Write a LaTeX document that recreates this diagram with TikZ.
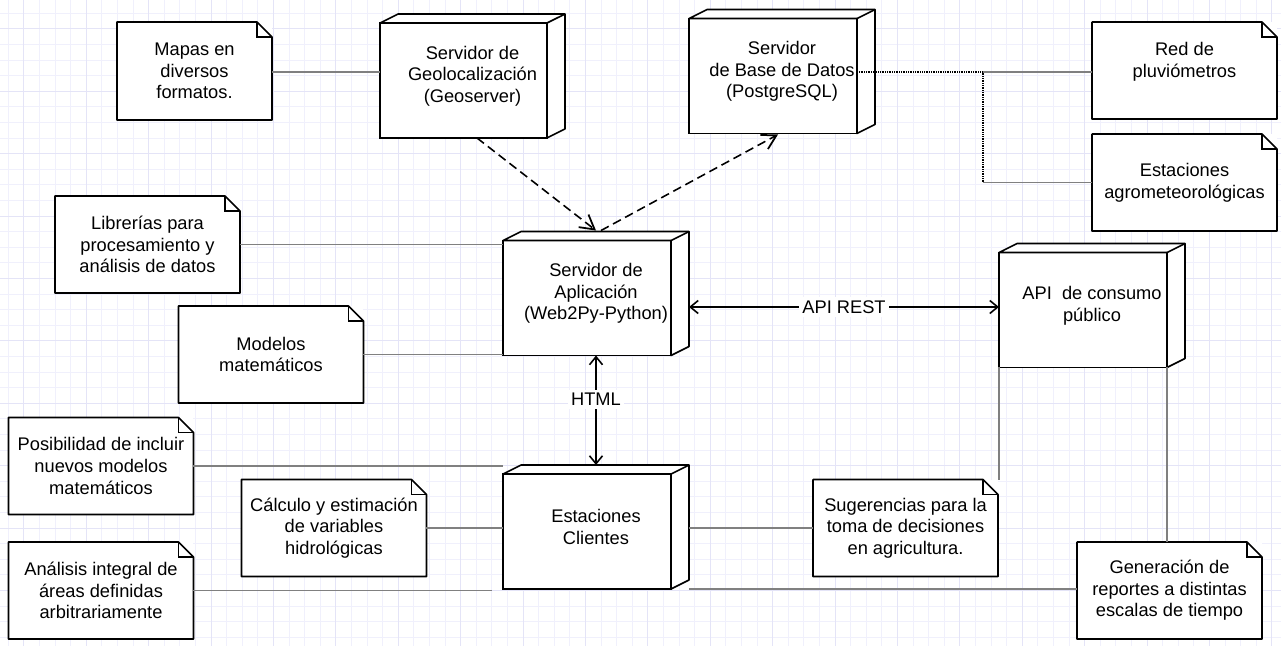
\documentclass[tikz,border=0pt]{standalone}
\usepackage{fontspec}
\setmainfont{Liberation Sans}
\usetikzlibrary{calc}
\usetikzlibrary{arrows.meta}

\definecolor{rejillaMenor}{RGB}{240,240,252}
\definecolor{rejillaMayor}{RGB}{228,228,247}
\definecolor{conector}{RGB}{128,128,128}

\tikzset{
	texto/.style = {align=center, text=black, font=\fontsize{10.4}{12.3}\selectfont},
	caja/.style = {draw, line width=0.9pt, fill=white, minimum width=3.36cm, minimum height=2.3cm, inner sep=0pt, outer sep=0pt},
	nota/.style = {texto, fill=white, minimum width=3.7cm, minimum height=1.94cm, inner sep=0pt, outer sep=0pt},
	enlace/.style = {conector, line width=0.8pt},
	punteado/.style = {line width=0.7pt, dash pattern=on 0.5pt off 0.5pt},
	flecha/.style = {line width=0.9pt, {Straight Barb[length=1.6mm, width=2.6mm]}-{Straight Barb[length=1.6mm, width=2.6mm]}},
	discontinua/.style = {line width=0.9pt, dash pattern=on 5pt off 2.8pt, -{Straight Barb[length=2.8mm, width=3.2mm, line width=1pt]}}
}

% caras superior y lateral de un nodo 3D
\newcommand{\profundidad}[1]{%
	\draw [line width=0.9pt, fill=white, line join=round] (#1.north west) -- ++(0.36cm,0.18cm) -- ([shift={(0.36cm,0.18cm)}]#1.north east) -- ([shift={(0.36cm,0.18cm)}]#1.south east) -- (#1.south east) -- (#1.north east) -- cycle;
	\draw [line width=0.9pt] (#1.north east) -- ++(0.36cm,0.18cm);
}

% contorno de nota con esquina doblada
\newcommand{\doblez}[1]{%
	\draw [line width=0.9pt, line join=round] (#1.south west) -- (#1.north west) -- ([xshift=-0.3cm]#1.north east) -- ([yshift=-0.3cm]#1.north east) -- (#1.south east) -- cycle;
	\draw [line width=0.9pt] ([xshift=-0.3cm]#1.north east) |- ([yshift=-0.3cm]#1.north east);
}

\begin{document}
\begin{tikzpicture}[x=0.02cm, y=-0.02cm]

	% fondo y rejilla
	\fill [white] (0,0) rectangle (1281,646);
	\useasboundingbox (0,0) rectangle (1281,646);
	\foreach \i in {0,...,81} \draw [rejillaMenor, line width=0.55pt] ({8.3+15.6*\i},0) -- ({8.3+15.6*\i},646);
	\foreach \j in {0,...,40} \draw [rejillaMenor, line width=0.55pt] (0,{13.3+15.6*\j}) -- (1281,{13.3+15.6*\j});
	\foreach \i in {0,...,20} \draw [rejillaMayor, line width=0.55pt] ({23.9+62.4*\i},0) -- ({23.9+62.4*\i},646);
	\foreach \j in {0,...,9} \draw [rejillaMayor, line width=0.55pt] (0,{28.9+62.4*\j}) -- (1281,{28.9+62.4*\j});

	% servidores
	\node [caja, minimum width=3.34cm, label={[texto, xshift=0.18cm, yshift=0.09cm]center:Servidor de\\Geolocalización\\(Geoserver)}] (geoserver) at (463.5,80.5) {};
	\profundidad{geoserver}
	\node [caja, label={[texto, xshift=0.18cm, yshift=0.09cm]center:Servidor\\de Base de Datos\\(PostgreSQL)}] (baseDatos) at (773,76) {};
	\profundidad{baseDatos}
	\node [caja, label={[texto, xshift=0.18cm, yshift=0.09cm]center:Servidor de\\Aplicación\\(Web2Py-Python)}] (aplicacion) at (587,298) {};
	\profundidad{aplicacion}
	\node [caja, label={[texto, xshift=0.18cm, yshift=0.09cm]center:API\ \ de consumo\\público}] (api) at (1083,310) {};
	\profundidad{api}
	\node [caja, label={[texto, xshift=0.18cm, yshift=0.09cm]center:Estaciones\\Clientes}] (clientes) at (587,531.5) {};
	\profundidad{clientes}

	% notas
	\node [nota, minimum width=3.1cm, minimum height=1.96cm] (mapas) at (194.5,71) {Mapas en\\diversos\\formatos.};
	\node [nota] (pluviometros) at (1184.5,70.5) {Red de\\pluviómetros\\\mbox{}};
	\node [nota] (agromet) at (1184.5,182.5) {Estaciones\\agrometeorológicas};
	\node [nota] (librerias) at (147.5,244.5) {Librerías para\\procesamiento y\\análisis de datos};
	\node [nota] (modelos) at (271,354.5) {Modelos\\matemáticos};
	\node [nota] (posibilidad) at (101,466) {Posibilidad de incluir\\nuevos modelos\\matemáticos};
	\node [nota] (analisis) at (101,590.5) {Análisis integral de\\áreas definidas\\arbitrariamente};
	\node [nota] (calculo) at (334,528) {Cálculo y estimación\\de variables\\hidrológicas};
	\node [nota] (sugerencias) at (905.5,528) {Sugerencias para la\\toma de decisiones\\en agricultura.};
	\node [nota] (reportes) at (1169.5,590.5) {Generación de\\reportes a distintas\\escalas de tiempo};
	\foreach \n in {mapas, pluviometros, agromet, librerias, modelos, posibilidad, analisis, calculo, sugerencias, reportes} {
		\doblez{\n}
	}

	% enlaces de las notas
	\draw [enlace] ($(mapas.east)+(0,1)$) -- ($(mapas.east -| geoserver.west)+(0,1)$);
	\draw [enlace] (librerias.east) -- (librerias.east -| aplicacion.west);
	\draw [enlace] (modelos.east) -- (modelos.east -| aplicacion.west);
	\draw [enlace] (posibilidad.east) -- (posibilidad.east -| clientes.west);
	\draw [enlace] (calculo.east) -- (calculo.east -| clientes.west);
	\draw [enlace] (analisis.east) -- ($(analisis.east -| clientes.west)+(-11,0)$);
	\draw [enlace] ($(sugerencias.west -| clientes.east)+(18,0)$) -- (sugerencias.west);
	\draw [enlace] ($(reportes.west -| clientes.east)+(18,-1.5)$) -- ($(reportes.west)+(0,-1.5)$);
	\draw [enlace] (api.south west) -- (api.south west |- sugerencias.north);
	\draw [enlace] (api.south east) -- (api.south east |- reportes.north);

	% base de datos a las estaciones
	\coordinate (ramal) at ($(pluviometros.west -| baseDatos.east)+(126,1.5)$);
	\draw [punteado] ($(pluviometros.west -| baseDatos.east)+(0,1.5)$) -- (ramal) -- (ramal |- agromet.west);
	\draw [enlace] (ramal) -- (ramal -| pluviometros.west);
	\draw [enlace] (ramal |- agromet.west) -- (agromet.west);

	% dependencias
	\draw [discontinua] ($(geoserver.south)+(13.5,0)$) -- ($(aplicacion.north)+(9,-10)$);
	\draw [discontinua] ($(aplicacion.north)+(14,-10)$) -- ($(baseDatos.south)+(5,1)$);

	% comunicaciones
	\coordinate (salidaApi) at ($(aplicacion.east)+(18,9)$);
	\draw [flecha] (salidaApi) -- (salidaApi -| api.west) node [midway, fill=white, inner sep=2pt, texto] {API REST};
	\draw [flecha] ($(aplicacion.south)+(9,0)$) -- ($(clientes.north)+(9,-9)$) node [pos=0.4, fill=white, inner sep=2pt, texto] {HTML};

\end{tikzpicture}
\end{document}
